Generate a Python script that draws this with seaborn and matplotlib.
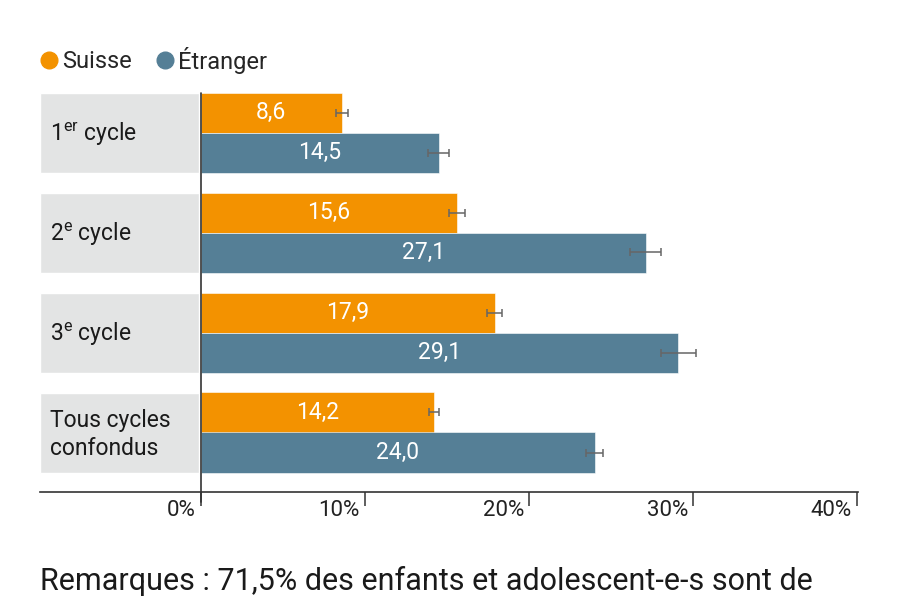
import matplotlib
matplotlib.use("Agg")
import matplotlib.pyplot as plt
import matplotlib.transforms as mtransforms
from matplotlib.lines import Line2D
import seaborn as sns
import pandas as pd

# ---- data ----
cycles = ["1er cycle", "2e cycle", "3e cycle", "Tous cycles confondus"]
cycle_labels = [r"1$^{\mathregular{er}}$ cycle", r"2$^{\mathregular{e}}$ cycle",
                r"3$^{\mathregular{e}}$ cycle", "Tous cycles\nconfondus"]
groups = ["Suisse", "Étranger"]
suisse = [8.6, 15.6, 17.9, 14.2]
etranger = [14.5, 27.1, 29.1, 24.0]
suisse_err = [0.35, 0.5, 0.45, 0.3]
etranger_err = [0.65, 0.95, 1.05, 0.5]
xticks = [0, 10, 20, 30, 40]
xtick_labels = ["0%", "10%", "20%", "30%", "40%"]
note = "Remarques : 71,5% des enfants et adolescent-e-s sont de"

colors = {"Suisse": "#F39200", "Étranger": "#557F96"}

sns.set_theme(style="white")
plt.rcParams["font.family"] = ["Roboto", "DejaVu Sans"]
plt.rcParams["mathtext.fontset"] = "custom"
plt.rcParams["mathtext.rm"] = "Roboto"

df = pd.DataFrame({
    "cycle": cycles * 2,
    "groupe": [groups[0]] * 4 + [groups[1]] * 4,
    "valeur": suisse + etranger,
})

fig = plt.figure(figsize=(9, 6), dpi=100)
ax = fig.add_axes([40 / 900, 1 - 492 / 600, 818 / 900, 407 / 600])

xmin = -9.8
# grey label boxes
ax.barh(range(len(cycles)), width=-xmin - 0.12, left=xmin, height=0.8,
        color="#E3E4E4", zorder=0)

sns.barplot(data=df, y="cycle", x="valeur", hue="groupe", order=cycles,
            hue_order=groups, palette=colors, orient="h", width=0.8,
            errorbar=None, saturation=1, legend=False, ax=ax,
            edgecolor="white", linewidth=0.4, zorder=2)

# value labels
for cont, vals in zip(ax.containers[-2:], [suisse, etranger]):
    ax.bar_label(cont, labels=[f"{v:.1f}".replace(".", ",") for v in vals],
                 label_type="center", color="white", fontsize=16.5)

# error bars
for k, (vals, errs) in enumerate([(suisse, suisse_err), (etranger, etranger_err)]):
    ys = [i + (-0.2 if k == 0 else 0.2) for i in range(len(cycles))]
    ax.errorbar(vals, ys, xerr=errs, fmt="none", ecolor="#666666",
                elinewidth=1.1, capsize=3, capthick=1.1, zorder=3)

# category labels
for i, lab in enumerate(cycle_labels):
    ax.text(xmin + 0.6, i + 0.02, lab, ha="left", va="center", fontsize=16.5,
            color="#1a1a1a", linespacing=1.25)

ax.set_xlim(xmin, 40.05)
ax.set_ylim(3.595, -0.475)
ax.set_ylabel("")
ax.set_xlabel("")
ax.set_yticks([])
for s in ["top", "right", "left"]:
    ax.spines[s].set_visible(False)
ax.spines["bottom"].set_color("#333333")
ax.spines["bottom"].set_linewidth(1.2)

ax.plot([0, 0], [-0.4, 3.695], color="#333333", lw=1.2, clip_on=False, zorder=4)

ax.set_xticks(xticks)
ax.set_xticklabels(xtick_labels, fontsize=16, color="#222222")
ax.tick_params(axis="x", length=10, width=1.1, color="#333333",
               direction="out", pad=-4, bottom=True)
offset = mtransforms.ScaledTranslation(-5 / 100, 0, fig.dpi_scale_trans)
for lbl in ax.get_xticklabels():
    lbl.set_ha("right")
    lbl.set_transform(lbl.get_transform() + offset)

# legend
handles = [Line2D([0], [0], marker="o", linestyle="none", markersize=12,
                  markerfacecolor=colors[g], markeredgecolor=colors[g]) for g in groups]
fig.legend(handles, groups, loc="center left", bbox_to_anchor=(37 / 900, 1 - 60 / 600),
           ncol=2, frameon=False, fontsize=17, handletextpad=0.05,
           columnspacing=0.9, handlelength=1.0, borderaxespad=0, borderpad=0)

fig.text(40 / 900, 1 - 581 / 600, note, fontsize=22, color="#1a1a1a",
         ha="left", va="center")

fig.savefig("out.png", dpi=100)
